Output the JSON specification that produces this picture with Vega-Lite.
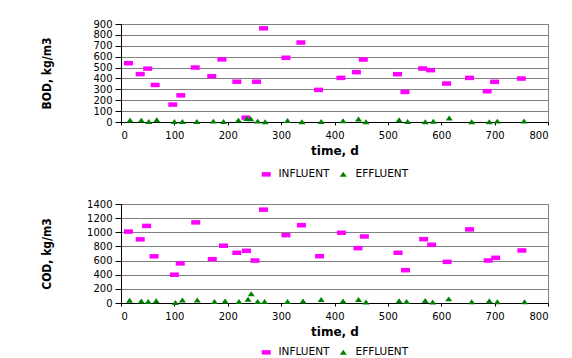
{
  "$schema": "https://vega.github.io/schema/vega-lite/v6.json",
  "background": "white",
  "padding": {"left": 40, "top": 18, "right": 0, "bottom": 0},
  "spacing": 17,
  "datasets": {
    "d": [
      {"param":"BOD","type":"INFLUENT","time":14,"value":540},
      {"param":"BOD","type":"INFLUENT","time":36,"value":440},
      {"param":"BOD","type":"INFLUENT","time":50,"value":490},
      {"param":"BOD","type":"INFLUENT","time":64,"value":340},
      {"param":"BOD","type":"INFLUENT","time":97,"value":160},
      {"param":"BOD","type":"INFLUENT","time":112,"value":245},
      {"param":"BOD","type":"INFLUENT","time":139,"value":500},
      {"param":"BOD","type":"INFLUENT","time":170,"value":420},
      {"param":"BOD","type":"INFLUENT","time":189,"value":575},
      {"param":"BOD","type":"INFLUENT","time":217,"value":370},
      {"param":"BOD","type":"INFLUENT","time":234,"value":40},
      {"param":"BOD","type":"INFLUENT","time":254,"value":370},
      {"param":"BOD","type":"INFLUENT","time":267,"value":860},
      {"param":"BOD","type":"INFLUENT","time":309,"value":590},
      {"param":"BOD","type":"INFLUENT","time":337,"value":730},
      {"param":"BOD","type":"INFLUENT","time":370,"value":295},
      {"param":"BOD","type":"INFLUENT","time":412,"value":405},
      {"param":"BOD","type":"INFLUENT","time":441,"value":458},
      {"param":"BOD","type":"INFLUENT","time":454,"value":574},
      {"param":"BOD","type":"INFLUENT","time":518,"value":439},
      {"param":"BOD","type":"INFLUENT","time":532,"value":276},
      {"param":"BOD","type":"INFLUENT","time":565,"value":491},
      {"param":"BOD","type":"INFLUENT","time":580,"value":476},
      {"param":"BOD","type":"INFLUENT","time":610,"value":353},
      {"param":"BOD","type":"INFLUENT","time":653,"value":405},
      {"param":"BOD","type":"INFLUENT","time":686,"value":283},
      {"param":"BOD","type":"INFLUENT","time":700,"value":369},
      {"param":"BOD","type":"INFLUENT","time":750,"value":399},
      {"param":"BOD","type":"EFFLUENT","time":17,"value":15},
      {"param":"BOD","type":"EFFLUENT","time":38,"value":15},
      {"param":"BOD","type":"EFFLUENT","time":52,"value":2},
      {"param":"BOD","type":"EFFLUENT","time":67,"value":18},
      {"param":"BOD","type":"EFFLUENT","time":100,"value":2},
      {"param":"BOD","type":"EFFLUENT","time":115,"value":2},
      {"param":"BOD","type":"EFFLUENT","time":142,"value":2},
      {"param":"BOD","type":"EFFLUENT","time":173,"value":6},
      {"param":"BOD","type":"EFFLUENT","time":192,"value":2},
      {"param":"BOD","type":"EFFLUENT","time":220,"value":15},
      {"param":"BOD","type":"EFFLUENT","time":236,"value":30},
      {"param":"BOD","type":"EFFLUENT","time":243,"value":28},
      {"param":"BOD","type":"EFFLUENT","time":256,"value":6},
      {"param":"BOD","type":"EFFLUENT","time":270,"value":0},
      {"param":"BOD","type":"EFFLUENT","time":312,"value":12},
      {"param":"BOD","type":"EFFLUENT","time":339,"value":0},
      {"param":"BOD","type":"EFFLUENT","time":375,"value":2},
      {"param":"BOD","type":"EFFLUENT","time":416,"value":10},
      {"param":"BOD","type":"EFFLUENT","time":445,"value":25},
      {"param":"BOD","type":"EFFLUENT","time":459,"value":0},
      {"param":"BOD","type":"EFFLUENT","time":521,"value":18},
      {"param":"BOD","type":"EFFLUENT","time":537,"value":2},
      {"param":"BOD","type":"EFFLUENT","time":570,"value":0},
      {"param":"BOD","type":"EFFLUENT","time":585,"value":4},
      {"param":"BOD","type":"EFFLUENT","time":615,"value":34},
      {"param":"BOD","type":"EFFLUENT","time":657,"value":0},
      {"param":"BOD","type":"EFFLUENT","time":690,"value":0},
      {"param":"BOD","type":"EFFLUENT","time":705,"value":6},
      {"param":"BOD","type":"EFFLUENT","time":755,"value":8},
      {"param":"COD","type":"INFLUENT","time":14,"value":1010},
      {"param":"COD","type":"INFLUENT","time":36,"value":900},
      {"param":"COD","type":"INFLUENT","time":48,"value":1090},
      {"param":"COD","type":"INFLUENT","time":62,"value":660},
      {"param":"COD","type":"INFLUENT","time":100,"value":400},
      {"param":"COD","type":"INFLUENT","time":111,"value":560},
      {"param":"COD","type":"INFLUENT","time":140,"value":1140},
      {"param":"COD","type":"INFLUENT","time":171,"value":620},
      {"param":"COD","type":"INFLUENT","time":192,"value":810},
      {"param":"COD","type":"INFLUENT","time":217,"value":710},
      {"param":"COD","type":"INFLUENT","time":235,"value":738},
      {"param":"COD","type":"INFLUENT","time":251,"value":600},
      {"param":"COD","type":"INFLUENT","time":267,"value":1320},
      {"param":"COD","type":"INFLUENT","time":309,"value":960},
      {"param":"COD","type":"INFLUENT","time":338,"value":1100},
      {"param":"COD","type":"INFLUENT","time":372,"value":662},
      {"param":"COD","type":"INFLUENT","time":413,"value":993},
      {"param":"COD","type":"INFLUENT","time":444,"value":776},
      {"param":"COD","type":"INFLUENT","time":456,"value":941},
      {"param":"COD","type":"INFLUENT","time":519,"value":710},
      {"param":"COD","type":"INFLUENT","time":533,"value":464},
      {"param":"COD","type":"INFLUENT","time":567,"value":903},
      {"param":"COD","type":"INFLUENT","time":582,"value":823},
      {"param":"COD","type":"INFLUENT","time":611,"value":582},
      {"param":"COD","type":"INFLUENT","time":653,"value":1041},
      {"param":"COD","type":"INFLUENT","time":688,"value":601},
      {"param":"COD","type":"INFLUENT","time":702,"value":639},
      {"param":"COD","type":"INFLUENT","time":751,"value":743},
      {"param":"COD","type":"EFFLUENT","time":16,"value":35},
      {"param":"COD","type":"EFFLUENT","time":38,"value":24},
      {"param":"COD","type":"EFFLUENT","time":51,"value":19},
      {"param":"COD","type":"EFFLUENT","time":66,"value":28},
      {"param":"COD","type":"EFFLUENT","time":102,"value":5},
      {"param":"COD","type":"EFFLUENT","time":115,"value":40},
      {"param":"COD","type":"EFFLUENT","time":143,"value":40},
      {"param":"COD","type":"EFFLUENT","time":175,"value":19},
      {"param":"COD","type":"EFFLUENT","time":195,"value":24},
      {"param":"COD","type":"EFFLUENT","time":221,"value":19},
      {"param":"COD","type":"EFFLUENT","time":238,"value":50},
      {"param":"COD","type":"EFFLUENT","time":244,"value":128},
      {"param":"COD","type":"EFFLUENT","time":256,"value":19},
      {"param":"COD","type":"EFFLUENT","time":269,"value":19},
      {"param":"COD","type":"EFFLUENT","time":312,"value":19},
      {"param":"COD","type":"EFFLUENT","time":341,"value":24},
      {"param":"COD","type":"EFFLUENT","time":375,"value":45},
      {"param":"COD","type":"EFFLUENT","time":416,"value":24},
      {"param":"COD","type":"EFFLUENT","time":445,"value":45},
      {"param":"COD","type":"EFFLUENT","time":459,"value":10},
      {"param":"COD","type":"EFFLUENT","time":521,"value":28},
      {"param":"COD","type":"EFFLUENT","time":535,"value":19},
      {"param":"COD","type":"EFFLUENT","time":570,"value":33},
      {"param":"COD","type":"EFFLUENT","time":584,"value":10},
      {"param":"COD","type":"EFFLUENT","time":614,"value":55},
      {"param":"COD","type":"EFFLUENT","time":657,"value":14},
      {"param":"COD","type":"EFFLUENT","time":690,"value":28},
      {"param":"COD","type":"EFFLUENT","time":705,"value":14},
      {"param":"COD","type":"EFFLUENT","time":756,"value":14}
    ]
  },
  "config": {
    "view": {"stroke": "#808080", "strokeWidth": 1},
    "axis": {
      "labelFont": "DejaVu Sans", "labelFontSize": 10, "labelColor": "black",
      "domainColor": "black", "tickColor": "black", "gridColor": "#808080", "gridOpacity": 1, "gridWidth": 1,
      "titleColor": "black", "format": "d"
    },
    "axisX": {"grid": false, "tickSize": 3, "labelPadding": 5, "titleFont": "DejaVu Sans", "titleFontSize": 12, "titleFontWeight": "bold", "titlePadding": 5},
    "axisY": {"grid": true, "tickSize": 6, "labelPadding": 3, "titleFont": "DejaVu Sans Condensed, Liberation Sans Narrow, sans-serif", "titleFontSize": 12, "titleFontWeight": "bold", "titlePadding": 39},
    "legend": {
      "orient": "bottom", "direction": "horizontal", "title": null,
      "labelFont": "DejaVu Sans", "labelFontSize": 10.5, "labelColor": "black",
      "symbolSize": 81, "symbolStrokeWidth": 0, "columnPadding": 8, "labelOffset": 7, "offset": 13,
      "layout": {"bottom": {"anchor": "middle"}}
    }
  },
  "vconcat": [
    {
      "width": 427, "height": 98,
      "data": {"name": "d"},
      "transform": [{"filter": "datum.param === 'BOD'"}],
      "mark": {"type": "point", "filled": true, "opacity": 1, "size": 81},
      "encoding": {
        "x": {"field": "time", "type": "quantitative", "scale": {"domain": [0, 800]},
              "axis": {"values": [0,100,200,300,400,500,600,700,800], "title": "time, d"}},
        "y": {"field": "value", "type": "quantitative", "scale": {"domain": [0, 900]},
              "axis": {"values": [0,100,200,300,400,500,600,700,800,900], "title": "BOD, kg/m3"}},
        "color": {"field": "type", "type": "nominal",
                  "scale": {"domain": ["INFLUENT","EFFLUENT"], "range": ["#ff00ff","#008000"]}},
        "shape": {"field": "type", "type": "nominal",
                  "scale": {"domain": ["INFLUENT","EFFLUENT"], "range": ["M-1,-0.5H1V0.5H-1Z","M0,-0.6L0.78,0.5L-0.78,0.5Z"]}}
      }
    },
    {
      "width": 427, "height": 99,
      "data": {"name": "d"},
      "transform": [{"filter": "datum.param === 'COD'"}],
      "mark": {"type": "point", "filled": true, "opacity": 1, "size": 81},
      "encoding": {
        "x": {"field": "time", "type": "quantitative", "scale": {"domain": [0, 800]},
              "axis": {"values": [0,100,200,300,400,500,600,700,800], "title": "time, d"}},
        "y": {"field": "value", "type": "quantitative", "scale": {"domain": [0, 1400]},
              "axis": {"values": [0,200,400,600,800,1000,1200,1400], "title": "COD, kg/m3", "titlePadding": 33}},
        "color": {"field": "type", "type": "nominal",
                  "scale": {"domain": ["INFLUENT","EFFLUENT"], "range": ["#ff00ff","#008000"]},
                  "legend": {"offset": 10}},
        "shape": {"field": "type", "type": "nominal",
                  "scale": {"domain": ["INFLUENT","EFFLUENT"], "range": ["M-1,-0.5H1V0.5H-1Z","M0,-0.6L0.78,0.5L-0.78,0.5Z"]}}
      }
    }
  ],
  "resolve": {
    "scale": {"color": "independent", "shape": "independent", "x": "independent", "y": "independent"},
    "legend": {"color": "independent", "shape": "independent"}
  }
}
